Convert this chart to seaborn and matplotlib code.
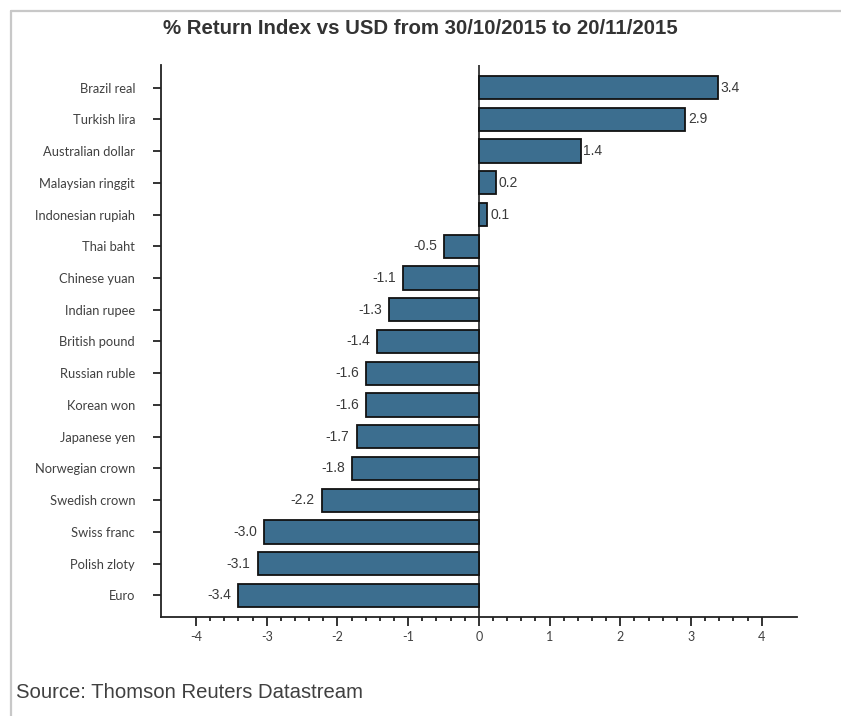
import matplotlib
matplotlib.use("Agg")
import matplotlib.pyplot as plt
from matplotlib.lines import Line2D
from matplotlib.ticker import FixedLocator
import numpy as np
import seaborn as sns
import pandas as pd

currencies = ["Brazil real", "Turkish lira", "Australian dollar", "Malaysian ringgit",
              "Indonesian rupiah", "Thai baht", "Chinese yuan", "Indian rupee",
              "British pound", "Russian ruble", "Korean won", "Japanese yen",
              "Norwegian crown", "Swedish crown", "Swiss franc", "Polish zloty", "Euro"]
returns = [3.38, 2.92, 1.44, 0.24, 0.12, -0.49, -1.07, -1.27, -1.44, -1.60, -1.60,
           -1.73, -1.80, -2.22, -3.04, -3.13, -3.40]
labels = ["3.4", "2.9", "1.4", "0.2", "0.1", "-0.5", "-1.1", "-1.3", "-1.4", "-1.6",
          "-1.6", "-1.7", "-1.8", "-2.2", "-3.0", "-3.1", "-3.4"]
x_ticks = [-4, -3, -2, -1, 0, 1, 2, 3, 4]

title = "% Return Index vs USD from 30/10/2015 to 20/11/2015"
source = "Source: Thomson Reuters Datastream"

df = pd.DataFrame({"currency": currencies, "ret": returns})

sns.set_style("white")
plt.rcParams["font.family"] = ["Liberation Sans", "DejaVu Sans"]

fig = plt.figure(figsize=(8.41, 7.16), dpi=100)
ax = fig.add_axes([160.7 / 841, 1 - 617.3 / 716, (797 - 160.7) / 841, (617.3 - 65) / 716])

sns.barplot(data=df, x="ret", y="currency", orient="h", color="#3c6e8f",
            saturation=1, width=0.73, edgecolor="#111111", linewidth=1.3, ax=ax)

ax.set_xlim(-4.5, 4.5)
ax.set_ylim(len(currencies) - 1 + 0.69, -0.71)
ax.axvline(0, color="#333333", lw=1.3, zorder=0.5)

for i, (v, lab) in enumerate(zip(returns, labels)):
    if v >= 0:
        ax.annotate(lab, (v, i), xytext=(2, 0), textcoords="offset points",
                    ha="left", va="center", fontsize=10, color="#3a3a3a")
    else:
        ax.annotate(lab, (v, i), xytext=(-5, 0), textcoords="offset points",
                    ha="right", va="center", fontsize=10, color="#3a3a3a")

for side in ["top", "right"]:
    ax.spines[side].set_visible(False)
for side in ["left", "bottom"]:
    ax.spines[side].set_color("#222222")
    ax.spines[side].set_linewidth(1.3)

ax.set_xticks(x_ticks)
ax.set_xticklabels([str(t) for t in x_ticks])
minor = [round(v, 1) for v in np.arange(-4, 4.01, 0.2)]
ax.xaxis.set_minor_locator(FixedLocator(minor))
ax.tick_params(axis="x", which="major", direction="out", length=6.3, width=1.2,
               color="#111111", pad=3.5, labelsize=9, labelcolor="#404040", bottom=True)
ax.tick_params(axis="x", which="minor", direction="out", length=3.1, width=1.2,
               color="#111111", bottom=True)
ax.tick_params(axis="y", which="major", direction="out", length=5.5, width=1.2,
               color="#111111", pad=13, labelsize=9.3, labelcolor="#404040", left=True)
for lbl in ax.get_xticklabels() + ax.get_yticklabels():
    lbl.set_family(["Lato", "DejaVu Sans"])
ax.set_xlabel("")
ax.set_ylabel("")

fig.text(420.5 / 841, 1 - 28 / 716, title, ha="center", va="center",
         fontsize=14.7, fontweight="bold", color="#333333")
fig.text(16 / 841, 1 - 692 / 716, source, ha="left", va="center",
         fontsize=14.6, color="#404040")

# figure border (left and top)
fig.add_artist(Line2D([10.5 / 841, 10.5 / 841], [0, 1 - 10.5 / 716],
                      transform=fig.transFigure, color="#c8c8c8", lw=1.6))
fig.add_artist(Line2D([10.5 / 841, 1], [1 - 10.5 / 716, 1 - 10.5 / 716],
                      transform=fig.transFigure, color="#c8c8c8", lw=1.6))

fig.savefig("out.png", dpi=100)
